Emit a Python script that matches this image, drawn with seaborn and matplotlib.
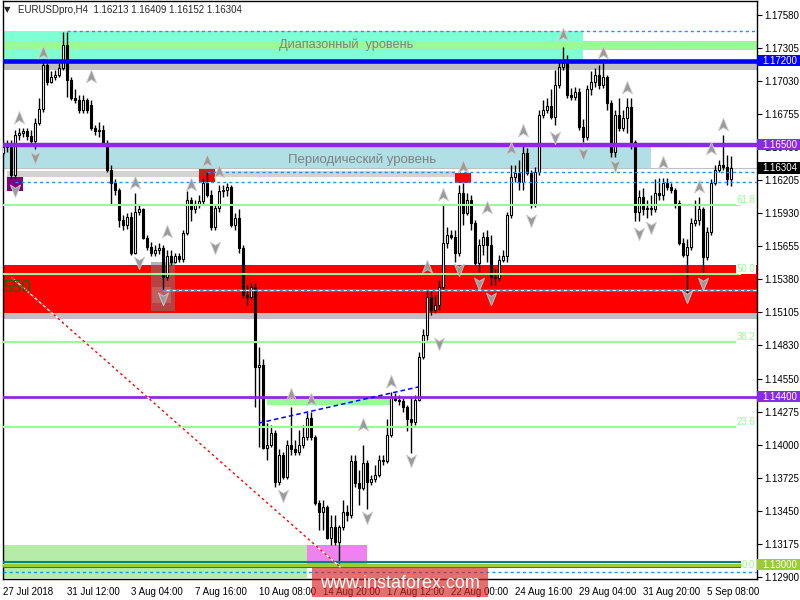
import matplotlib
matplotlib.use("Agg")
import matplotlib.pyplot as plt
from matplotlib.patches import Rectangle
from matplotlib.path import Path
import matplotlib.transforms as mtransforms
import numpy as np
import pandas as pd
import seaborn as sns

sns.set_style("white")
plt.rcParams["font.family"] = ["Liberation Sans", "DejaVu Sans"]

symbol = "EURUSDpro,H4"

# H4 candles, 27 Jul 2018 .. 6 Sep 2018
opens = [
    1.1643, 1.1648, 1.1651, 1.1625, 1.1658, 1.1660, 1.1661, 1.1657, 1.1653, 1.1668,
    1.1680, 1.1716, 1.1702, 1.1706, 1.1708, 1.1714, 1.1733, 1.1704, 1.1689, 1.1687,
    1.1679, 1.1687, 1.1683, 1.1664, 1.1661, 1.1662, 1.1651, 1.1629, 1.1618, 1.1612,
    1.1587, 1.1583, 1.1590, 1.1560, 1.1594, 1.1596, 1.1572, 1.1565, 1.1560, 1.1562,
    1.1564, 1.1540, 1.1557, 1.1552, 1.1557, 1.1555, 1.1576, 1.1604, 1.1596, 1.1600,
    1.1603, 1.1618, 1.1608, 1.1581, 1.1597, 1.1611, 1.1612, 1.1615, 1.1583, 1.1589,
    1.1564, 1.1525, 1.1523, 1.1531, 1.1465, 1.1466, 1.1397, 1.1400, 1.1410, 1.1369,
    1.1391, 1.1373, 1.1400, 1.1396, 1.1394, 1.1400, 1.1406, 1.1422, 1.1406, 1.1351,
    1.1344, 1.1348, 1.1322, 1.1331, 1.1319, 1.1331, 1.1344, 1.1341, 1.1386, 1.1368,
    1.1364, 1.1385, 1.1369, 1.1371, 1.1375, 1.1387, 1.1386, 1.1408, 1.1440, 1.1437,
    1.1436, 1.1431, 1.1421, 1.1419, 1.1437, 1.1473, 1.1491, 1.1523, 1.1512, 1.1516,
    1.1531, 1.1568, 1.1575, 1.1573, 1.1560, 1.1610, 1.1593, 1.1604, 1.1585, 1.1551,
    1.1566, 1.1573, 1.1566, 1.1540, 1.1539, 1.1554, 1.1557, 1.1591, 1.1623, 1.1626,
    1.1619, 1.1643, 1.1626, 1.1600, 1.1627, 1.1675, 1.1679, 1.1682, 1.1673, 1.1700,
    1.1715, 1.1718, 1.1691, 1.1690, 1.1694, 1.1665, 1.1656, 1.1696, 1.1702, 1.1708,
    1.1700, 1.1706, 1.1685, 1.1644, 1.1675, 1.1664, 1.1672, 1.1681, 1.1652, 1.1594,
    1.1606, 1.1596, 1.1597, 1.1596, 1.1610, 1.1608, 1.1618, 1.1615, 1.1612, 1.1601,
    1.1568, 1.1558, 1.1565, 1.1585, 1.1587, 1.1596, 1.1556, 1.1577, 1.1618, 1.1629,
    1.1633, 1.1631, 1.16213,
]
highs = [
    1.1654, 1.1654, 1.1654, 1.1662, 1.1664, 1.1664, 1.1664, 1.1662, 1.1672, 1.1689,
    1.1721, 1.1718, 1.1711, 1.1712, 1.1718, 1.1744, 1.1744, 1.1706, 1.1696, 1.1691,
    1.1691, 1.1689, 1.1687, 1.1666, 1.1669, 1.1666, 1.1654, 1.1633, 1.1621, 1.1614,
    1.1591, 1.1593, 1.1594, 1.1610, 1.1600, 1.1597, 1.1575, 1.1569, 1.1566, 1.1568,
    1.1566, 1.1562, 1.1562, 1.1560, 1.1560, 1.1579, 1.1611, 1.1606, 1.1604, 1.1608,
    1.1622, 1.1627, 1.1612, 1.1600, 1.1616, 1.1616, 1.1618, 1.1616, 1.1593, 1.1596,
    1.1566, 1.1533, 1.1535, 1.1535, 1.1481, 1.1471, 1.1418, 1.1416, 1.1412, 1.1396,
    1.1394, 1.1404, 1.1431, 1.1404, 1.1412, 1.1416, 1.1427, 1.1427, 1.1408, 1.1354,
    1.1354, 1.1350, 1.1341, 1.1341, 1.1333, 1.1354, 1.1350, 1.1391, 1.1391, 1.1379,
    1.1400, 1.1387, 1.1375, 1.1383, 1.1391, 1.1391, 1.1421, 1.1444, 1.1443, 1.1441,
    1.1439, 1.1433, 1.1440, 1.1441, 1.1477, 1.1496, 1.1529, 1.1529, 1.1525, 1.1537,
    1.1600, 1.1581, 1.1579, 1.1579, 1.1616, 1.1618, 1.1610, 1.1608, 1.1587, 1.1571,
    1.1577, 1.1579, 1.1575, 1.1546, 1.1558, 1.1562, 1.1594, 1.1633, 1.1633, 1.1637,
    1.1650, 1.1647, 1.1629, 1.1631, 1.1679, 1.1687, 1.1689, 1.1696, 1.1712, 1.1719,
    1.1731, 1.1725, 1.1697, 1.1698, 1.1697, 1.1671, 1.1700, 1.1711, 1.1714, 1.1716,
    1.1719, 1.1708, 1.1687, 1.1679, 1.1689, 1.1679, 1.1689, 1.1689, 1.1654, 1.1612,
    1.1614, 1.1604, 1.1608, 1.1621, 1.1622, 1.1622, 1.1622, 1.1618, 1.1614, 1.1604,
    1.1572, 1.1571, 1.1589, 1.1604, 1.1606, 1.1598, 1.1581, 1.1621, 1.1633, 1.1637,
    1.1658, 1.1641, 1.16409,
]
lows = [
    1.1641, 1.1644, 1.1621, 1.1622, 1.1654, 1.1656, 1.1654, 1.1651, 1.1646, 1.1666,
    1.1677, 1.1700, 1.1701, 1.1704, 1.1706, 1.1712, 1.1690, 1.1687, 1.1685, 1.1676,
    1.1676, 1.1676, 1.1662, 1.1658, 1.1656, 1.1650, 1.1627, 1.1600, 1.1608, 1.1581,
    1.1579, 1.1580, 1.1558, 1.1559, 1.1591, 1.1571, 1.1562, 1.1557, 1.1557, 1.1559,
    1.1529, 1.1537, 1.1550, 1.1551, 1.1552, 1.1552, 1.1575, 1.1586, 1.1593, 1.1597,
    1.1600, 1.1606, 1.1579, 1.1579, 1.1594, 1.1606, 1.1607, 1.1581, 1.1579, 1.1560,
    1.1522, 1.1516, 1.1521, 1.1431, 1.1398, 1.1396, 1.1387, 1.1398, 1.1365, 1.1366,
    1.1371, 1.1371, 1.1391, 1.1391, 1.1391, 1.1397, 1.1404, 1.1404, 1.1350, 1.1329,
    1.1329, 1.1321, 1.1316, 1.1316, 1.1301, 1.1329, 1.1336, 1.1339, 1.1365, 1.1350,
    1.1362, 1.1346, 1.1366, 1.1369, 1.1373, 1.1383, 1.1385, 1.1406, 1.1436, 1.1433,
    1.1427, 1.1411, 1.1393, 1.1416, 1.1436, 1.1471, 1.1487, 1.1508, 1.1510, 1.1512,
    1.1529, 1.1564, 1.1571, 1.1552, 1.1557, 1.1583, 1.1591, 1.1579, 1.1550, 1.1544,
    1.1558, 1.1552, 1.1533, 1.1533, 1.1536, 1.1552, 1.1552, 1.1589, 1.1619, 1.1612,
    1.1612, 1.1625, 1.1597, 1.1598, 1.1625, 1.1672, 1.1676, 1.1671, 1.1666, 1.1697,
    1.1712, 1.1689, 1.1687, 1.1687, 1.1662, 1.1652, 1.1654, 1.1691, 1.1698, 1.1696,
    1.1697, 1.1679, 1.1640, 1.1640, 1.1661, 1.1661, 1.1660, 1.1646, 1.1586, 1.1586,
    1.1591, 1.1589, 1.1591, 1.1594, 1.1604, 1.1604, 1.1612, 1.1610, 1.1597, 1.1566,
    1.1556, 1.1526, 1.1562, 1.1582, 1.1583, 1.1541, 1.1554, 1.1575, 1.1616, 1.1627,
    1.1629, 1.1616, 1.16152,
]
closes = [
    1.1648, 1.1651, 1.1625, 1.1658, 1.1660, 1.1661, 1.1657, 1.1653, 1.1668, 1.1680,
    1.1716, 1.1702, 1.1706, 1.1708, 1.1714, 1.1733, 1.1704, 1.1689, 1.1687, 1.1679,
    1.1687, 1.1679, 1.1664, 1.1661, 1.1662, 1.1651, 1.1629, 1.1618, 1.1612, 1.1587,
    1.1583, 1.1590, 1.1560, 1.1594, 1.1596, 1.1572, 1.1565, 1.1560, 1.1562, 1.1564,
    1.1540, 1.1557, 1.1552, 1.1557, 1.1555, 1.1576, 1.1604, 1.1596, 1.1600, 1.1603,
    1.1618, 1.1608, 1.1581, 1.1597, 1.1611, 1.1612, 1.1615, 1.1583, 1.1589, 1.1564,
    1.1525, 1.1523, 1.1531, 1.1465, 1.1466, 1.1397, 1.1400, 1.1410, 1.1369, 1.1391,
    1.1373, 1.1400, 1.1396, 1.1394, 1.1400, 1.1406, 1.1422, 1.1406, 1.1351, 1.1344,
    1.1348, 1.1322, 1.1331, 1.1319, 1.1331, 1.1344, 1.1341, 1.1386, 1.1368, 1.1364,
    1.1385, 1.1369, 1.1371, 1.1375, 1.1387, 1.1386, 1.1408, 1.1440, 1.1437, 1.1436,
    1.1431, 1.1421, 1.1419, 1.1437, 1.1473, 1.1491, 1.1523, 1.1512, 1.1516, 1.1531,
    1.1568, 1.1575, 1.1573, 1.1560, 1.1610, 1.1593, 1.1604, 1.1585, 1.1551, 1.1566,
    1.1573, 1.1566, 1.1540, 1.1539, 1.1554, 1.1557, 1.1591, 1.1623, 1.1626, 1.1619,
    1.1643, 1.1626, 1.1600, 1.1627, 1.1675, 1.1679, 1.1682, 1.1673, 1.1700, 1.1715,
    1.1718, 1.1691, 1.1690, 1.1694, 1.1665, 1.1656, 1.1696, 1.1702, 1.1708, 1.1700,
    1.1706, 1.1685, 1.1644, 1.1675, 1.1664, 1.1672, 1.1681, 1.1652, 1.1594, 1.1606,
    1.1596, 1.1597, 1.1596, 1.1610, 1.1608, 1.1618, 1.1615, 1.1612, 1.1601, 1.1568,
    1.1558, 1.1565, 1.1585, 1.1587, 1.1596, 1.1556, 1.1577, 1.1618, 1.1629, 1.1633,
    1.1631, 1.1621, 1.16304,
]

time_labels = ["27 Jul 2018", "31 Jul 12:00", "3 Aug 04:00", "7 Aug 16:00",
               "10 Aug 08:00", "14 Aug 20:00", "17 Aug 12:00", "22 Aug 00:00",
               "24 Aug 16:00", "29 Aug 04:00", "31 Aug 20:00", "5 Sep 08:00"]
price_ticks = [1.17580, 1.17305, 1.17030, 1.16755, 1.16480, 1.16205, 1.15930,
               1.15655, 1.15380, 1.15105, 1.14830, 1.14550, 1.14275, 1.14000,
               1.13725, 1.13450, 1.13175, 1.12900]

range_level = 1.17200
period_level = 1.16500
mid_level = 1.14400
base_level = 1.13000

fib_low, fib_high = 1.13000, 1.17850
fib_ratios = [0.0, 23.6, 38.2, 50.0, 61.8]

up_signal_bars = [4, 10, 22, 33, 41, 47, 51, 54, 72, 77, 90, 97, 106, 110, 115,
                  121, 127, 130, 140, 150, 156, 165, 174, 177, 180]
up_signal_prices = [1.1672, 1.1726, 1.1706, 1.1618, 1.1577, 1.1616, 1.1636, 1.1627,
                    1.1441, 1.1437, 1.1416, 1.1452, 1.1548, 1.1608, 1.1631, 1.1597,
                    1.1646, 1.1661, 1.1741, 1.1726, 1.1697, 1.1635, 1.1615, 1.1646,
                    1.1666]
down_signal_bars = [3, 8, 34, 40, 53, 70, 91, 102, 109, 114, 119, 122, 132, 138,
                    145, 153, 159, 162, 171, 175]
down_signal_prices = [1.1612, 1.1640, 1.1552, 1.1522, 1.1565, 1.1358, 1.1340, 1.1387,
                      1.1485, 1.1546, 1.1535, 1.1522, 1.1587, 1.1656, 1.1643, 1.1633,
                      1.1576, 1.1581, 1.1524, 1.1535]

trend_bars = [64, 103.75]
trend_prices = [1.1418, 1.1448]
ray_bars = [2.25, 84.25]
ray_prices = [1.1539, 1.1298]

candles = pd.DataFrame({"open": opens, "high": highs, "low": lows, "close": closes})
candles["bar"] = np.arange(len(candles))

# ---------------------------------------------------------------- figure
fig = plt.figure(figsize=(8, 6), dpi=100)
ax = fig.add_axes([2.5 / 800, 21 / 600, 754.5 / 800, 578 / 600])
X0, X1 = -0.125, 188.5
ax.set_xlim(X0, X1)
ax.set_ylim(1.12880, 1.176967)
ax.set_facecolor("white")


def zone(b0, b1, p0, p1, color, z=1.0, alpha=1.0):
    ax.add_patch(Rectangle((b0, p0), b1 - b0, p1 - p0, facecolor=color,
                           edgecolor="none", zorder=z, alpha=alpha))


# background zones
zone(X0, 145, 1.1720, 1.17447, "#7fffd4")
zone(X0, X1, 1.1729, 1.1736, "#98fb98", z=1.1)
zone(X0, X1, 1.1712, 1.1718, "#c0c0c0")
zone(X0, 162, 1.1630, 1.1650, "#b0e0e6")
zone(1, 113, 1.1623, 1.1628, "#d3d3d3")
zone(X0, X1, 1.1510, 1.1550, "#ff0000")
zone(X0, X1, 1.1505, 1.1510, "#c0c0c0")
zone(X0, 76, 1.1289, 1.1316, "#b4eca8")
zone(76, 91, 1.1297, 1.1316, "#ee82ee", z=1.1)
zone(66, 96.75, 1.1433, 1.1440, "#98fb98")
zone(1, 5, 1.1611, 1.1623, "#800080", z=1.2)
zone(49, 53, 1.1625, 1.1630, "#c81e1e", z=1.2)
zone(49, 53, 1.1619, 1.1625, "#ff0000", z=1.2)
zone(113, 117, 1.1618, 1.1626, "#ff0000", z=1.2)
zone(37, 43, 1.1511, 1.1552, "#7a7a7a", z=1.3, alpha=0.55)
zone(37.25, 42, 1.1518, 1.1531, "#ffffff", z=1.35, alpha=0.15)

# ------------------------------------------------------------- candles
ax.vlines(candles["bar"], candles["low"], candles["high"], color="black",
          lw=1.0, zorder=3)
rising = candles["close"] >= candles["open"]
body_low = np.minimum(candles["open"], candles["close"])
body_h = (candles["close"] - candles["open"]).abs()
ax.bar(candles["bar"], body_h, bottom=body_low, width=0.6,
       color=np.where(rising, "white", "black"), edgecolor="black",
       linewidth=0.8, zorder=3.5)

# ---------------------------------------------------------- level lines
ax.axhline(range_level, color="#0000ff", lw=3.3, zorder=4)
ax.axhline(period_level, color="#8a2be2", lw=3.2, zorder=4)
ax.axhline(mid_level, color="#8a2be2", lw=2.0, zorder=4)
ax.axhline(closes[-1], color="#c0c0c0", lw=0.8, zorder=2)

fib_end = 184.5
for r in fib_ratios:
    level = fib_low + (fib_high - fib_low) * r / 100.0
    ax.hlines(level, X0, fib_end, color="#98fb98", lw=1.5, zorder=4)
    if r > 0:
        ax.text(X1 - 0.4, level, f"{r:.1f}", color="#98fb98", fontsize=7,
                ha="right", va="bottom", zorder=4.5,
                bbox=dict(facecolor="white", edgecolor="none", pad=0.3))

# bottom cluster round 1.13000
ax.hlines(base_level + 0.00023, X0, fib_end, color="#008080", lw=1.5, zorder=4.2)
ax.hlines(base_level, X0, fib_end, color="#9acd32", lw=2.2, zorder=4.3)
ax.hlines(base_level - 0.00018, X0, fib_end, color="#008080", lw=1.5, zorder=4.2)
ax.text(X1 - 0.4, base_level, "0.0", color="#98fb98", fontsize=7,
        ha="right", va="center", zorder=4.5)

dash = (0, (2.2, 2.2))
blue_d = "#1e90ff"
ax.hlines(1.17447, 16, X1, color=blue_d, lw=1, linestyles=[dash], zorder=4)
ax.hlines(1.1627, 51, X1, color=blue_d, lw=1, linestyles=[dash], zorder=4)
ax.hlines(1.1619, 3, X1, color=blue_d, lw=1, linestyles=[dash], zorder=4)
ax.hlines(1.1529, 40, X1, color="white", lw=1, zorder=4)
ax.hlines(1.1529, 40, X1, color=blue_d, lw=1, linestyles=[dash], zorder=4.1)
ax.hlines(1.12938, X0, X1, color=blue_d, lw=1, linestyles=[dash], zorder=4)

# trend line and descending ray (red dashes over a white trace)
sns.lineplot(x=trend_bars, y=trend_prices, ax=ax, color="#0000ff", lw=1.1,
             linestyle=(0, (3, 2)), zorder=4.4)
sns.lineplot(x=ray_bars, y=ray_prices, ax=ax, color="white", lw=1.0, zorder=4.4)
sns.lineplot(x=ray_bars, y=ray_prices, ax=ax, color="#ff0000", lw=1.0,
             linestyle=(0, (1.8, 2.2)), zorder=4.45)

# ------------------------------------------------------------- captions
ax.text(85.75, 1.17330, "Диапазонный  уровень", color="#808080", fontsize=9.2,
        ha="center", va="center", zorder=5)
ax.text(89.75, 1.16370, "Периодический уровень", color="#808080", fontsize=9.5,
        ha="center", va="center", zorder=5)
ax.text(0.2, 1.1531, "550", color="#007000", fontsize=12, ha="left",
        va="center", zorder=5)

# ----------------------------------------------------------- signal arrows
up_path = Path([(0, 1), (0.7, -0.75), (0, -0.3), (-0.7, -0.75), (0, 1)],
               [Path.MOVETO, Path.LINETO, Path.LINETO, Path.LINETO, Path.CLOSEPOLY])
down_path = Path([(0, -1), (0.7, 0.75), (0, 0.3), (-0.7, 0.75), (0, -1)],
                 [Path.MOVETO, Path.LINETO, Path.LINETO, Path.LINETO, Path.CLOSEPOLY])
ax.scatter(up_signal_bars, up_signal_prices, marker=up_path, s=110,
           facecolor="#9a9a9a", edgecolor="#d0d0d0", linewidth=0.6, zorder=6)
ax.scatter(down_signal_bars, down_signal_prices, marker=down_path, s=110,
           facecolor="#9a9a9a", edgecolor="#d0d0d0", linewidth=0.6, zorder=6)

# ---------------------------------------------------------------- axes
for s in ax.spines.values():
    s.set_color("black")
    s.set_linewidth(1.0)
ax.yaxis.tick_right()
ax.set_yticks(price_ticks)
ax.set_yticklabels([f"{p:.5f}" for p in price_ticks])
ax.set_xticks(range(0, 16 * len(time_labels), 16))
ax.set_xticklabels(time_labels)
ax.tick_params(axis="both", direction="out", length=3.5, width=0.8,
               labelsize=7, pad=2, colors="black")
for t in ax.get_xticklabels():
    t.set_ha("left")
ax.set_xlabel("")
ax.set_ylabel("")

# price tags on the right scale
tag_tr = mtransforms.blended_transform_factory(ax.transAxes, ax.transData)
tags = [(range_level, "#0000ff"), (period_level, "#8a2be2"),
        (closes[-1], "#000000"), (mid_level, "#8a2be2"), (base_level, "#9acd32")]
for price, bg in tags:
    ax.add_patch(Rectangle((1.0, price - 0.00047), 0.06, 0.00094, facecolor=bg,
                           edgecolor="none", transform=tag_tr, clip_on=False,
                           zorder=10))
    ax.text(1.0 + 5.5 / 754.5, price, f"{price:.5f}", color="white", fontsize=7,
            ha="left", va="center", transform=tag_tr, clip_on=False, zorder=11)

# header line
fig.text(4 / 800, 1 - 10 / 600, "▼", fontsize=6, family="DejaVu Sans",
         ha="left", va="center")
fig.text(18 / 800, 1 - 10 / 600,
         f"{symbol}  {opens[-1]:.5f} {highs[-1]:.5f} {lows[-1]:.5f} {closes[-1]:.5f}",
         fontsize=7, ha="left", va="center")

# watermark
fig.add_artist(Rectangle((312 / 800, 3 / 600), 176 / 800, 29 / 600,
                         transform=fig.transFigure, facecolor="#d82020",
                         edgecolor="none", alpha=0.65, zorder=20))
fig.text(400 / 800, 1 - 583 / 600, "www.instaforex.com", color="white",
         fontsize=13, ha="center", va="center", zorder=21)

fig.savefig("out.png", dpi=100)
